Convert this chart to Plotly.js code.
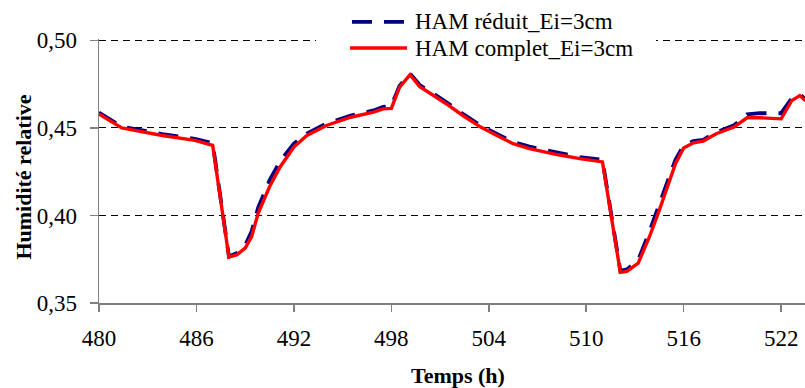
<!DOCTYPE html>
<html>
<head>
<meta charset="utf-8">
<script src="https://cdn.plot.ly/plotly-3.0.1.min.js"></script>
<style>
html,body{margin:0;padding:0;background:#fff;}
#chart{width:805px;height:388px;}
</style>
</head>
<body>
<div id="chart"></div>
<script>
// Time (h)
const timeH = [480.0, 481.4, 483.9, 485.9, 487.0, 488.0, 488.5, 489.0, 489.4, 489.8,
  490.5, 491.15, 492.0, 492.8, 494.0, 495.5, 496.9, 497.5, 498.0, 498.5,
  499.15, 499.75, 500.6, 501.4, 502.4, 503.5, 504.5, 505.5, 506.5, 508.2,
  509.6, 511.0, 512.1, 512.5, 513.2, 513.9, 514.5, 515.0, 515.5, 516.0,
  516.6, 517.2, 518.0, 519.1, 519.9, 520.7, 522.0, 522.65, 523.15, 523.5];

// HAM réduit_Ei=3cm
const hamReduit = [0.4588, 0.4508, 0.4465, 0.4437, 0.4414, 0.3765, 0.3785, 0.3830, 0.3910, 0.4045,
  0.4200, 0.4310, 0.4410, 0.4468, 0.4525, 0.4570, 0.4600, 0.4620, 0.4625, 0.4740,
  0.4810, 0.4745, 0.4695, 0.4647, 0.4580, 0.4513, 0.4466, 0.4420, 0.4393, 0.4358,
  0.4333, 0.4318, 0.3683, 0.3692, 0.3745, 0.3910, 0.4065, 0.4200, 0.4320, 0.4400,
  0.4425, 0.4432, 0.4475, 0.4515, 0.4578, 0.4584, 0.4584, 0.4668, 0.4694, 0.4662];

// HAM complet_Ei=3cm
const hamComplet = [0.4580, 0.4500, 0.4457, 0.4429, 0.4400, 0.3762, 0.3776, 0.3814, 0.3880, 0.4012,
  0.4164, 0.4277, 0.4391, 0.4457, 0.4514, 0.4561, 0.4590, 0.4609, 0.4612, 0.4732,
  0.4804, 0.4735, 0.4685, 0.4637, 0.4571, 0.4505, 0.4457, 0.4410, 0.4382, 0.4348,
  0.4325, 0.4306, 0.3675, 0.3681, 0.3728, 0.3880, 0.4031, 0.4164, 0.4297, 0.4385,
  0.4415, 0.4425, 0.4467, 0.4505, 0.4558, 0.4558, 0.4552, 0.4656, 0.4685, 0.4656];

const seriesNames = ['HAM réduit_Ei=3cm', 'HAM complet_Ei=3cm'];
const xTicks = [480, 486, 492, 498, 504, 510, 516, 522];
const yTicks = [0.35, 0.40, 0.45, 0.50];
const yTickText = ['0,35', '0,40', '0,45', '0,50'];
const xTitle = 'Temps (h)';
const yTitle = 'Humidité relative';

const BLUE = '#000080', RED = '#FF0000';
const FONT = 'Liberation Serif';

const traces = [
  {x: timeH, y: hamReduit, name: seriesNames[0], mode: 'lines',
   line: {color: BLUE, width: 3.8, dash: '20px,12px'}},
  {x: timeH, y: hamComplet, name: seriesNames[1], mode: 'lines',
   line: {color: RED, width: 3.4}}
];

// plot area: x 99..805, y 39..303 (0.50 at ~40)
const layout = {
  width: 805, height: 388,
  margin: {l: 99, r: 0, t: 39, b: 85, pad: 0},
  paper_bgcolor: '#fff', plot_bgcolor: '#fff',
  showlegend: false,
  font: {family: FONT, size: 22, color: '#000'},
  xaxis: {
    range: [480, 523.47], tickvals: xTicks, ticktext: xTicks.map(String),
    showgrid: false, zeroline: false,
    showline: true, linecolor: '#808080', linewidth: 1.5,
    ticks: 'outside', ticklen: 7, tickcolor: '#808080', tickwidth: 1.5,
    tickfont: {family: FONT, size: 23, color: '#000'},
    ticklabelstandoff: 7,
    automargin: false
  },
  yaxis: {
    range: [0.35, 0.5008], tickvals: yTicks, ticktext: yTickText,
    showgrid: true, gridcolor: '#000', gridwidth: 1, griddash: '7px,5px',
    zeroline: false,
    showline: true, linecolor: '#808080', linewidth: 1.5,
    ticks: 'outside', ticklen: 8, tickcolor: '#808080', tickwidth: 1.5,
    tickfont: {family: FONT, size: 23, color: '#000'},
    ticklabelstandoff: 8,
    automargin: false
  },
  shapes: [
    {type: 'rect', xref: 'paper', yref: 'paper', x0: 0.3074, x1: 0.789, y0: 0.93, y1: 1.12,
     fillcolor: '#fff', line: {width: 0}, layer: 'above'},
    {type: 'line', xref: 'paper', yref: 'paper', x0: 0.3583, x1: 0.4363, y0: 1.0646, y1: 1.0646,
     line: {color: BLUE, width: 3.8, dash: '20px,12px'}, layer: 'above'},
    {type: 'line', xref: 'paper', yref: 'paper', x0: 0.3555, x1: 0.4363, y0: 0.9658, y1: 0.9658,
     line: {color: RED, width: 3.4}, layer: 'above'}
  ],
  annotations: [
    {xref: 'paper', yref: 'paper', x: 0.4448, y: 1.0646, xanchor: 'left', yanchor: 'middle',
     text: seriesNames[0], showarrow: false, font: {family: FONT, size: 23, color: '#000'}},
    {xref: 'paper', yref: 'paper', x: 0.4448, y: 0.9658, xanchor: 'left', yanchor: 'middle',
     text: seriesNames[1], showarrow: false, font: {family: FONT, size: 23, color: '#000'}},
    {xref: 'paper', yref: 'paper', x: 0.5078, y: -0.274, xanchor: 'center', yanchor: 'middle',
     text: '<b>' + xTitle + '</b>', showarrow: false, font: {family: FONT, size: 22, color: '#000'}},
    {xref: 'paper', yref: 'paper', x: -0.1062, y: 0.475, xanchor: 'center', yanchor: 'middle',
     textangle: -90, text: '<b>' + yTitle + '</b>', showarrow: false,
     font: {family: FONT, size: 22, color: '#000'}}
  ]
};

Plotly.newPlot('chart', traces, layout, {staticPlot: true, displayModeBar: false});
</script>
</body>
</html>
